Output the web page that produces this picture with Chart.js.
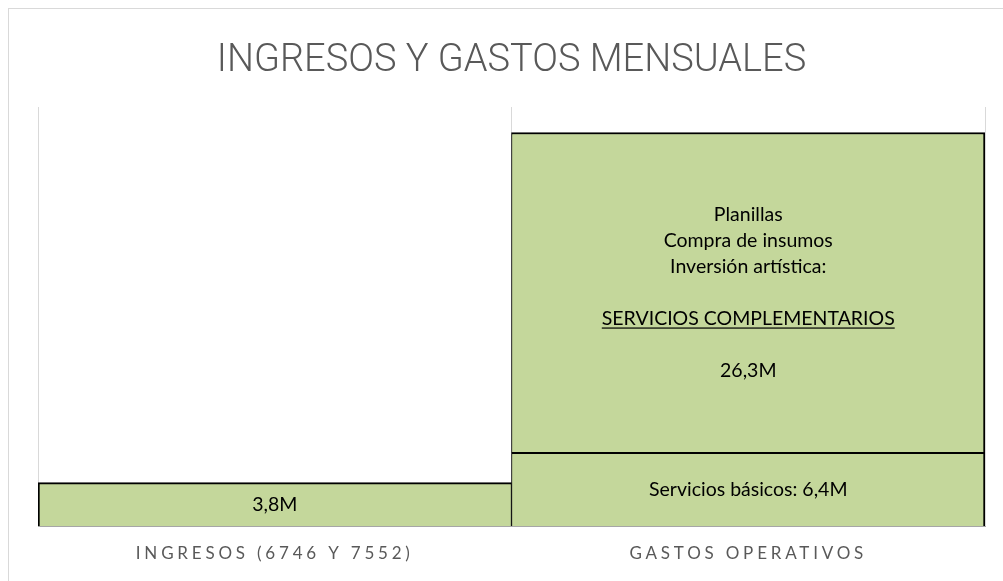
<!DOCTYPE html>
<html>
<head>
<meta charset="utf-8">
<script src="https://cdn.jsdelivr.net/npm/chart.js@4.4.1/dist/chart.umd.min.js"></script>
<style>
  html, body { margin: 0; padding: 0; background: #ffffff; overflow: hidden; }
  #card { position: absolute; left: 8px; top: 8px; width: 1100px; height: 700px; border: 1px solid #d9d9d9; box-sizing: border-box; }
  #c { position: absolute; left: 0; top: 0; }
</style>
</head>
<body>
<div id="card"></div>
<canvas id="c" width="1003" height="581"></canvas>
<script>
const chartTitle = 'INGRESOS Y GASTOS MENSUALES';
const categories = ['INGRESOS (6746 Y 7552)', 'GASTOS OPERATIVOS'];
const lowerValues = [3.8, 6.4];
const upperValues = [null, 27.6];
const lowerLabels = [['3,8M'], ['Servicios básicos: 6,4M']];
const upperLabels = [null, ['Planillas', 'Compra de insumos', 'Inversión artística:', '', 'SERVICIOS COMPLEMENTARIOS', '', '26,3M']];
const underlinedLines = ['SERVICIOS COMPLEMENTARIOS'];
const yMax = 36.2;

const FILL = '#c4d79b';
const labelFont = '19.5px Lato, "Open Sans", sans-serif';

const spacingPlugin = {
  id: 'spacing',
  beforeDraw(chart) { chart.ctx.letterSpacing = '3.8px'; },
  beforeDatasetsDraw(chart) { chart.ctx.letterSpacing = '0px'; }
};

const labelsPlugin = {
  id: 'barLabels',
  afterDatasetsDraw(chart) {
    const ctx = chart.ctx;
    const sets = [lowerLabels, upperLabels];
    ctx.save();
    ctx.letterSpacing = '0px';
    ctx.font = labelFont;
    ctx.fillStyle = '#000000';
    ctx.textAlign = 'center';
    ctx.textBaseline = 'middle';
    const lh = 26;
    sets.forEach((labs, di) => {
      const meta = chart.getDatasetMeta(di);
      meta.data.forEach((bar, i) => {
        const lines = labs[i];
        if (!lines) return;
        const cy = (bar.y + bar.base) / 2;
        const start = cy - (lines.length - 1) * lh / 2;
        lines.forEach((t, k) => {
          if (!t) return;
          const y = start + k * lh;
          ctx.fillText(t, bar.x, y);
          if (underlinedLines.includes(t)) {
            const w = ctx.measureText(t).width;
            ctx.fillRect(bar.x - w / 2, y + 9, w, 1.2);
          }
        });
      });
    });
    ctx.restore();
  }
};

const titlePlugin = {
  id: 'customTitle',
  afterDraw(chart) {
    const ctx = chart.ctx;
    const a = chart.chartArea;
    ctx.save();
    ctx.letterSpacing = '0px';
    ctx.font = '300 38px Roboto, "Open Sans", sans-serif';
    ctx.fillStyle = '#595959';
    ctx.textAlign = 'center';
    ctx.textBaseline = 'middle';
    ctx.fillText(chartTitle, (a.left + a.right) / 2, 61);
    ctx.restore();
  }
};

new Chart(document.getElementById('c'), {
  type: 'bar',
  data: {
    labels: categories,
    datasets: [
      {
        label: 'Ingresos / Servicios básicos',
        data: lowerValues,
        backgroundColor: FILL,
        borderColor: '#000000',
        borderWidth: (c) => c.dataIndex === 0 ? { top: 2, left: 2, right: 1, bottom: 0 } : { top: 2, left: 1, right: 2, bottom: 0 },
        borderSkipped: false
      },
      {
        label: 'Servicios complementarios',
        data: upperValues,
        backgroundColor: FILL,
        borderColor: '#000000',
        borderWidth: { top: 2, left: 1, right: 2, bottom: 0 },
        borderSkipped: false
      }
    ]
  },
  options: {
    responsive: false,
    animation: false,
    datasets: { bar: { barPercentage: 1, categoryPercentage: 1 } },
    layout: { padding: { top: 107, left: 38, right: 18, bottom: 0 } },
    plugins: {
      legend: { display: false },
      title: { display: false },
      tooltip: { enabled: false }
    },
    scales: {
      x: {
        stacked: true,
        offset: true,
        grid: { offset: true, color: '#d9d9d9', lineWidth: 1, drawTicks: false },
        border: { display: true, color: '#a6a6a6', width: 1, z: 1 },
        ticks: { color: '#595959', font: { family: 'Lato, "Open Sans", sans-serif', size: 17 }, padding: 17, maxRotation: 0 }
      },
      y: {
        stacked: true,
        display: false,
        min: 0,
        max: yMax
      }
    }
  },
  plugins: [spacingPlugin, labelsPlugin, titlePlugin]
});
</script>
</body>
</html>
